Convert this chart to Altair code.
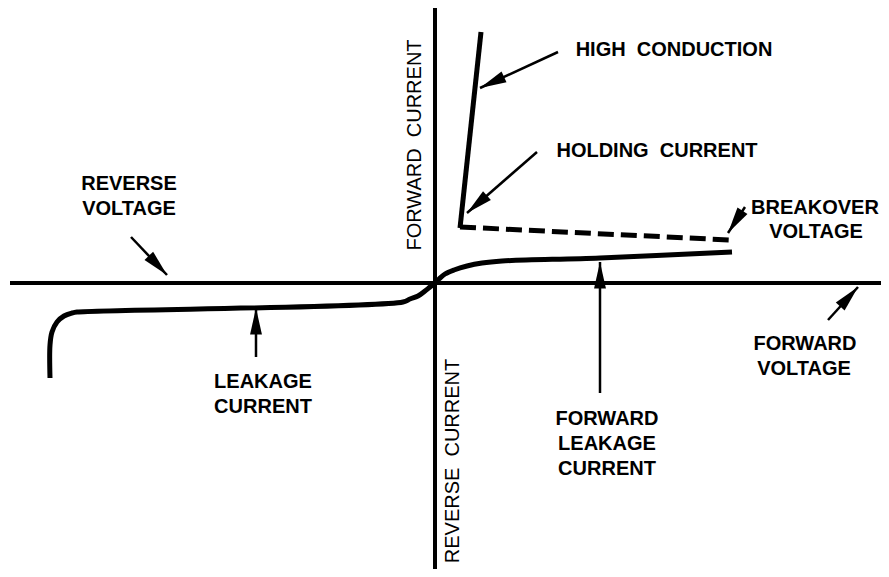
import math
import altair as alt
import pandas as pd

# Diagram units: x = voltage (origin at 0), y = current (origin at 0)
X_DOMAIN = [-427, 446]
Y_DOMAIN = [-286, 275]

# Reverse characteristic (leakage region and reverse breakdown)
rev_v = [-385, -385, -383, -378, -371, -363, -358, -32, -25, -17, -10, -5, 0]
rev_i = [-95, -62, -49, -39, -33, -30, -29, -19, -16, -13, -8, -4, 0]

# Forward blocking (forward leakage) characteristic
fwd_v = [0, 4, 10, 19, 32, 47, 67, 165, 297]
fwd_i = [0, 4, 9, 13, 17, 20, 22, 25, 31]

# High conduction region
on_v = [46, 25]
on_i = [251, 55]

# Switching (dashed) from breakover to holding
sw_v = [25, 295]
sw_i = [56, 43]

# Coordinate axes
haxis_v = [-425, 453]
haxis_i = [0, 0]
vaxis_v = [0, 0]
vaxis_i = [-300, 276]

# Annotation arrows: tail -> head
arr_x1 = [123, 102, 310, 165, 393, -304, -179]
arr_y1 = [231, 131, 76, -110, -37, 46, -74]
arr_x2 = [45, 32, 293, 165, 423, -268, -179]
arr_y2 = [195, 70, 50, 21, -4, 8, -25]

NB2 = "\u00a0\u00a0"

# Horizontal labels
lab_text = ["HIGH" + NB2 + "CONDUCTION", "HOLDING" + NB2 + "CURRENT", "BREAKOVER", "VOLTAGE",
            "REVERSE", "VOLTAGE", "LEAKAGE", "CURRENT", "FORWARD", "VOLTAGE",
            "FORWARD", "LEAKAGE", "CURRENT"]
lab_x = [239, 222, 380, 381, -306, -306, -172, -172, 370, 369, 172, 172, 172]
lab_y = [233, 132, 75, 51, 99, 74, -99, -124, -61, -86, -136, -161, -186]

# Vertical axis labels
vlab_text = ["FORWARD" + NB2 + "CURRENT", "REVERSE" + NB2 + "CURRENT"]
vlab_x = [-20, 18]
vlab_y = [138, -178]

xs = alt.Scale(domain=X_DOMAIN, nice=False, zero=False)
ys = alt.Scale(domain=Y_DOMAIN, nice=False, zero=False)


def enc(**kw):
    return dict(x=alt.X("x:Q", scale=xs, axis=None),
                y=alt.Y("y:Q", scale=ys, axis=None), **kw)


def line_df(xv, yv):
    return pd.DataFrame({"x": xv, "y": yv, "o": list(range(len(xv)))})


axes = alt.layer(
    alt.Chart(line_df(haxis_v, haxis_i)).mark_line(color="black", strokeWidth=4, strokeCap="butt").encode(**enc(order="o:Q")),
    alt.Chart(line_df(vaxis_v, vaxis_i)).mark_line(color="black", strokeWidth=4, strokeCap="butt").encode(**enc(order="o:Q")),
)

curves = alt.layer(
    alt.Chart(line_df(rev_v, rev_i)).mark_line(color="black", strokeWidth=5, strokeCap="butt", strokeJoin="round",
                                                interpolate="catmull-rom").encode(**enc(order="o:Q")),
    alt.Chart(line_df(fwd_v, fwd_i)).mark_line(color="black", strokeWidth=5, strokeCap="butt", strokeJoin="round",
                                                interpolate="catmull-rom").encode(**enc(order="o:Q")),
    alt.Chart(line_df(on_v, on_i)).mark_line(color="black", strokeWidth=5, strokeCap="butt").encode(**enc(order="o:Q")),
    alt.Chart(line_df(sw_v, sw_i)).mark_line(color="black", strokeWidth=5, strokeCap="butt",
                                              strokeDash=[16, 7]).encode(**enc(order="o:Q")),
)

arr = pd.DataFrame({"x": arr_x1, "y": arr_y1, "x2": arr_x2, "y2": arr_y2})
arr_heads = pd.DataFrame({
    "x": arr_x2, "y": arr_y2,
    "ang": [(math.degrees(math.atan2(x2 - x1, y2 - y1)) + 360) % 360
            for x1, y1, x2, y2 in zip(arr_x1, arr_y1, arr_x2, arr_y2)],
})

arrows = alt.layer(
    alt.Chart(arr).mark_rule(color="black", strokeWidth=2.5).encode(
        x=alt.X("x:Q", scale=xs, axis=None), y=alt.Y("y:Q", scale=ys, axis=None),
        x2="x2:Q", y2="y2:Q"),
    alt.Chart(arr_heads).mark_point(shape="M0,0L0.45,2L-0.45,2Z", filled=True, opacity=1,
                                    color="black", size=700, strokeWidth=0).encode(
        **enc(angle=alt.Angle("ang:Q", scale=None))),
)

labels = alt.Chart(pd.DataFrame({"x": lab_x, "y": lab_y, "t": lab_text})).mark_text(
    font="Liberation Sans", fontSize=20, fontWeight="bold", color="black",
    align="center", baseline="middle").encode(**enc(text="t:N"))

vlabels = alt.Chart(pd.DataFrame({"x": vlab_x, "y": vlab_y, "t": vlab_text})).mark_text(
    font="Liberation Sans", fontSize=20, color="black", angle=270,
    align="center", baseline="middle").encode(**enc(text="t:N"))

chart = alt.layer(axes, curves, arrows, labels, vlabels).properties(
    width=873, height=561, padding=0, background="white",
    autosize=alt.AutoSizeParams(type="none")
).configure_view(stroke=None)

chart.save("out.html", embed_options={"renderer": "svg", "actions": False})
